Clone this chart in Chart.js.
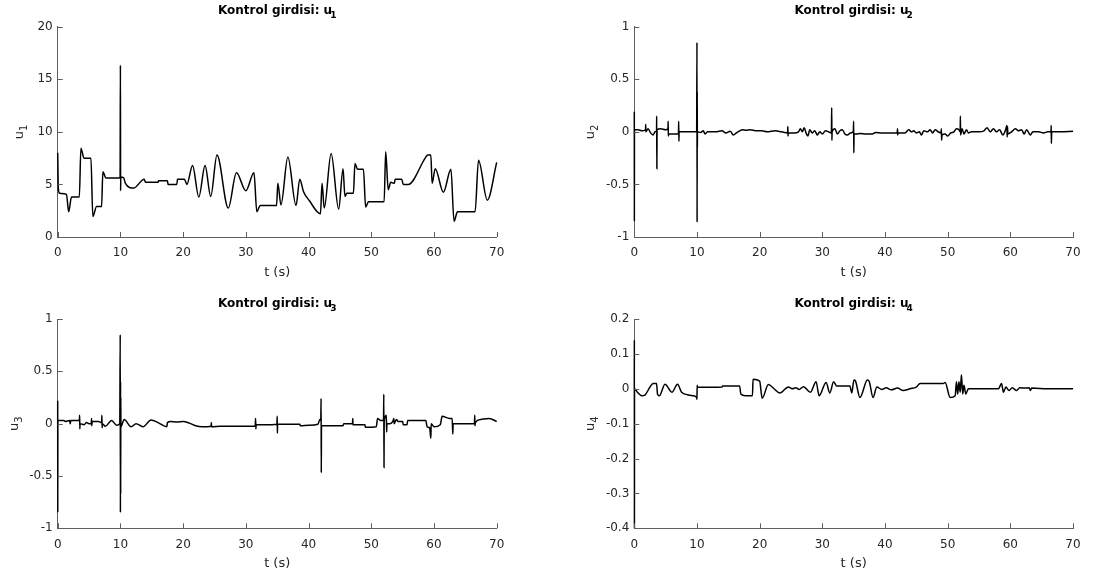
<!DOCTYPE html>
<html>
<head>
<meta charset="utf-8">
<script src="https://cdn.jsdelivr.net/npm/chart.js@4/dist/chart.umd.min.js"></script>
<style>
  body { margin: 0; background: #fff; }
  canvas { position: absolute; }
</style>
</head>
<body>
<canvas id="u1" width="546" height="291" style="left:0;top:0"></canvas>
<canvas id="u2" width="547" height="291" style="left:546px;top:0"></canvas>
<canvas id="u3" width="546" height="292" style="left:0;top:291px"></canvas>
<canvas id="u4" width="547" height="292" style="left:546px;top:291px"></canvas>
<script>
// time axis ticks (s)
const tTicks = [0, 10, 20, 30, 40, 50, 60, 70];

// y ticks per input
const u1Ticks = [0, 5, 10, 15, 20];
const u2Ticks = [-1, -0.5, 0, 0.5, 1];
const u3Ticks = [-1, -0.5, 0, 0.5, 1];
const u4Ticks = [-0.4, -0.3, -0.2, -0.1, 0, 0.1, 0.2];

// control inputs, [t, u] pairs
const u1Pts = [
  [0, 8.0], [0.1, 4.6], [0.3, 4.15], [1.4, 4.05], [1.75, 2.4], [2.2, 3.8], [3.45, 3.8],
  [3.7, 8.45], [4.2, 7.5], [5.3, 7.5], [5.6, 1.95], [6.2, 2.9], [7.0, 2.9], [7.2, 6.2],
  [7.7, 5.6], [9.95, 5.6], [10.0, 16.35], [10.03, 4.4], [10.06, 5.7], [10.5, 5.65],
  [10.8, 5.1], [12.1, 4.65], [13.8, 5.5], [14.0, 5.2], [16.0, 5.2], [16.1, 5.35],
  [17.5, 5.35], [17.6, 5.0], [19.0, 5.0], [19.1, 5.5], [20.2, 5.5], [20.6, 5.0],
  [21.5, 6.8], [22.5, 3.8], [23.5, 6.8], [24.4, 3.85], [25.4, 7.8], [27.2, 2.75],
  [28.5, 6.1], [30.0, 4.4], [31.3, 6.1], [31.75, 2.4], [32.3, 3.0], [34.9, 3.0],
  [35.1, 5.1], [35.6, 3.05], [36.7, 7.6], [38.0, 3.0], [38.6, 5.5], [39.2, 4.3],
  [40.2, 3.4], [41.3, 2.45], [41.9, 2.2], [42.15, 5.1], [42.5, 2.75], [43.6, 7.95],
  [44.8, 2.65], [45.5, 6.5], [45.8, 3.85], [46.1, 4.15], [47.15, 4.15], [47.4, 7.0],
  [47.8, 6.45], [48.75, 6.45], [49.1, 2.85], [49.55, 3.35], [52.05, 3.35], [52.3, 8.1],
  [52.7, 4.5], [53.1, 5.2], [53.7, 5.1], [53.8, 5.5], [54.85, 5.5], [55.1, 5.0],
  [55.9, 5.0], [58.6, 7.5], [59.0, 7.8], [59.5, 7.8], [59.7, 5.1], [60.2, 6.5],
  [61.5, 4.25], [62.7, 6.45], [63.2, 1.5], [63.75, 2.4], [66.55, 2.4], [67.1, 7.3],
  [68.5, 3.5], [70, 7.1]
];

const u2Pts = [
  [0, 0.19], [0.01, -0.85], [0.03, 0.02], [0.6, 0.02], [1.2, 0.01], [1.8, 0.02], [1.82, 0.07],
  [1.85, 0.0], [2.2, 0.03], [2.6, -0.01], [3.0, -0.03], [3.3, 0.0], [3.55, 0.0], [3.57, 0.15],
  [3.6, -0.35], [3.63, 0.02], [4.2, 0.03], [5.0, 0.02], [5.38, 0.03], [5.4, 0.1], [5.43, -0.04],
  [5.5, -0.02], [7.05, -0.02], [7.08, 0.1], [7.12, -0.09], [7.15, 0.0], [8.5, 0.0], [9.95, 0.0],
  [10.0, 0.85], [10.02, -0.86], [10.04, 0.38], [10.06, -0.15], [10.08, 0.0], [10.6, -0.005],
  [11.0, 0.01], [11.3, -0.02], [11.7, 0.0], [13.0, 0.0], [14.0, 0.01], [14.6, -0.01],
  [15.3, 0.005], [15.8, -0.03], [16.3, -0.01], [16.8, 0.01], [17.3, 0.02], [17.8, 0.015],
  [18.5, 0.02], [19.5, 0.01], [20.3, 0.01], [21.2, 0.0], [22.5, 0.01], [23.5, 0.0],
  [24.45, -0.01], [24.5, 0.05], [24.53, -0.04], [24.56, -0.01], [25.5, -0.01], [26.2, 0.0],
  [26.5, 0.03], [26.8, 0.0], [27.1, 0.04], [27.4, -0.01], [27.7, -0.04], [28.0, 0.02],
  [28.4, -0.01], [28.8, 0.01], [29.2, -0.03], [29.6, 0.0], [30.0, -0.02], [30.5, 0.01],
  [31.0, 0.0], [31.45, -0.01], [31.5, 0.23], [31.53, -0.08], [31.56, 0.0], [32.0, 0.03],
  [32.4, -0.02], [32.8, 0.01], [33.2, 0.02], [33.6, -0.02], [34.0, -0.03], [34.5, -0.01],
  [34.95, 0.0], [35.0, 0.1], [35.03, -0.2], [35.06, -0.02], [35.5, -0.02], [36.0, -0.015],
  [37.0, -0.02], [38.0, -0.02], [38.5, -0.005], [39.5, -0.01], [41.0, -0.01], [41.95, -0.01],
  [42.0, 0.03], [42.03, -0.03], [42.06, -0.01], [43.2, -0.01], [43.8, 0.02], [44.2, 0.0],
  [44.6, 0.01], [45.0, -0.01], [45.5, 0.0], [45.8, -0.03], [46.2, 0.01], [46.8, 0.0],
  [47.2, 0.02], [47.6, -0.01], [48.0, 0.02], [48.5, 0.0], [48.95, -0.01], [49.0, 0.03],
  [49.03, -0.08], [49.1, -0.03], [49.6, -0.02], [50.0, -0.04], [50.5, -0.01], [51.0, 0.0],
  [51.4, 0.03], [51.8, 0.02], [52.0, 0.0], [52.03, 0.15], [52.06, -0.03], [52.3, 0.03],
  [52.6, -0.02], [53.0, 0.02], [53.3, -0.01], [53.8, 0.0], [55.0, 0.0], [55.8, 0.01],
  [56.3, 0.04], [56.8, 0.0], [57.3, 0.03], [57.8, 0.0], [58.3, 0.02], [58.8, -0.03],
  [59.3, 0.03], [59.45, 0.06], [59.5, -0.05], [59.55, 0.05], [59.6, -0.02], [60.2, 0.0],
  [60.8, 0.03], [61.3, 0.01], [61.8, 0.02], [62.2, -0.02], [62.6, 0.02], [63.2, -0.03],
  [63.6, 0.0], [64.5, 0.0], [65.3, -0.01], [66.0, 0.0], [66.5, 0.0], [66.52, 0.06],
  [66.55, -0.11], [66.6, 0.0], [68.0, 0.0], [70, 0.005]
];

const u3Pts = [
  [0, 0.22], [0.01, -0.85], [0.03, 0.03], [1.0, 0.03], [1.2, 0.02], [1.9, 0.03], [2.0, 0.0],
  [2.1, 0.03], [3.45, 0.03], [3.5, 0.08], [3.53, -0.05], [3.56, 0.0], [4.2, -0.01], [4.6, 0.01],
  [5.0, 0.0], [5.35, 0.0], [5.4, 0.05], [5.43, -0.02], [5.5, 0.02], [6.5, 0.02], [7.0, 0.01],
  [7.05, 0.08], [7.08, -0.04], [7.12, 0.0], [7.6, -0.025], [8.6, 0.03], [9.4, -0.015],
  [9.9, 0.0], [9.97, 0.85], [10.0, -0.85], [10.02, 0.4], [10.04, -0.67], [10.06, 0.25],
  [10.08, -0.03], [10.6, 0.04], [11.7, -0.03], [12.5, 0.0], [13.6, -0.03], [14.9, 0.035],
  [16.0, 0.01], [17.4, -0.03], [17.5, 0.01], [18.0, 0.02], [19.0, 0.015], [20.0, 0.02],
  [21.0, 0.005], [22.0, -0.02], [23.0, -0.03], [24.45, -0.025], [24.5, 0.01], [24.55, -0.03],
  [26.0, -0.025], [28.0, -0.025], [30.0, -0.025], [31.5, -0.025], [31.55, 0.05], [31.6, -0.05],
  [31.65, -0.01], [33.0, -0.01], [34.95, -0.005], [35.0, 0.07], [35.03, -0.09], [35.06, -0.005],
  [37.0, -0.005], [38.6, -0.005], [38.7, -0.02], [40.0, -0.015], [41.5, -0.005], [41.8, 0.04],
  [41.95, 0.03], [42.0, 0.24], [42.03, -0.47], [42.06, -0.02], [45.5, -0.02], [45.6, 0.0],
  [47.0, 0.0], [47.05, 0.05], [47.08, -0.01], [49.0, -0.01], [49.05, -0.035], [50.8, -0.03],
  [51.0, 0.05], [51.5, 0.03], [51.95, 0.03], [52.0, 0.28], [52.03, -0.42], [52.06, 0.02],
  [52.4, 0.08], [52.45, -0.08], [52.5, 0.0], [53.0, 0.0], [53.5, 0.03], [53.6, 0.05],
  [53.65, 0.0], [54.0, 0.04], [54.3, 0.02], [55.0, 0.02], [55.1, -0.01], [55.7, -0.01],
  [55.8, 0.03], [58.7, 0.03], [58.9, -0.03], [59.3, -0.04], [59.5, -0.14], [59.55, 0.0],
  [60.0, -0.03], [61.0, -0.01], [61.3, 0.07], [62.5, 0.05], [62.9, 0.05], [63.0, -0.1],
  [63.05, 0.0], [63.4, 0.0], [66.45, 0.0], [66.5, 0.08], [66.53, -0.02], [66.6, 0.01],
  [67.5, 0.04], [68.8, 0.05], [70, 0.02]
];

const u4Pts = [
  [0, 0.0], [0.01, 0.14], [0.02, -0.4], [0.03, 0.0], [0.5, -0.01], [1.2, -0.02], [1.7, -0.018],
  [2.5, 0.005], [3.0, 0.015], [3.55, 0.015], [3.7, -0.015], [4.0, -0.02], [4.9, 0.013],
  [6.0, -0.01], [6.9, 0.013], [7.55, -0.01], [8.5, -0.017], [9.4, -0.02], [9.95, -0.025],
  [10.0, -0.03], [10.03, 0.01], [10.06, 0.004], [14.0, 0.005], [14.1, 0.008], [16.8, 0.008],
  [17.0, -0.015], [17.7, -0.02], [18.85, -0.02], [18.95, 0.027], [20.0, 0.022], [20.4, -0.027],
  [21.4, 0.012], [22.3, 0.0], [23.2, -0.012], [24.6, 0.005], [25.2, 0.0], [25.8, 0.003],
  [26.3, -0.002], [27.0, 0.006], [28.1, -0.01], [29.0, 0.02], [29.5, -0.02], [30.6, 0.018],
  [31.2, -0.012], [31.8, 0.02], [32.3, 0.008], [34.4, 0.008], [34.7, -0.012], [35.05, 0.025],
  [35.3, 0.022], [36.0, -0.025], [37.2, 0.025], [37.5, 0.02], [38.1, -0.025], [38.7, 0.005],
  [39.5, -0.002], [40.2, 0.003], [41.0, -0.003], [42.0, 0.002], [42.9, -0.005], [44.0, 0.0],
  [45.0, 0.005], [45.6, 0.015], [49.3, 0.015], [49.6, 0.018], [50.4, -0.025], [51.2, -0.02],
  [51.4, 0.02], [51.6, -0.015], [51.8, 0.02], [52.0, -0.01], [52.2, 0.04], [52.4, -0.015],
  [52.6, 0.01], [52.9, -0.015], [53.3, 0.0], [58.1, 0.0], [58.6, 0.015], [58.9, -0.01],
  [59.3, 0.005], [59.8, -0.005], [60.3, 0.003], [61.0, -0.005], [61.5, 0.003], [62.5, 0.002],
  [63.0, 0.003], [63.2, -0.005], [63.4, 0.002], [66.0, 0.0], [70, 0.0]
];

const FONT = '"DejaVu Sans", sans-serif';
const AXIS = '#5e5e5e';
const TEXT = '#262626';

// inward tick marks, subscripted title and axis labels
const decor = {
  id: 'decor',
  afterDraw(chart, args, o) {
    const { ctx, chartArea: a, scales } = chart;
    ctx.save();
    ctx.strokeStyle = AXIS;
    ctx.lineWidth = 1;
    ctx.beginPath();
    scales.x.ticks.forEach(t => {
      const px = Math.round(scales.x.getPixelForValue(t.value)) + 0.5;
      ctx.moveTo(px, a.bottom);
      ctx.lineTo(px, a.bottom - 5);
    });
    scales.y.ticks.forEach(t => {
      const py = Math.round(scales.y.getPixelForValue(t.value)) + 0.5;
      ctx.moveTo(a.left, py);
      ctx.lineTo(a.left + 5, py);
    });
    ctx.stroke();

    const cx = (a.left + a.right) / 2;
    const n = String(o.n);
    ctx.textAlign = 'left';
    ctx.textBaseline = 'alphabetic';

    // title
    ctx.fillStyle = '#000';
    const main = 'Kontrol girdisi: u';
    ctx.font = 'bold 12px ' + FONT;
    const w1 = ctx.measureText(main).width;
    ctx.font = 'bold 9px ' + FONT;
    const w2 = ctx.measureText(n).width;
    const x0 = cx - (w1 + w2 - 2) / 2;
    const by = a.top - 12.5;
    ctx.font = 'bold 12px ' + FONT;
    ctx.fillText(main, x0, by);
    ctx.font = 'bold 9px ' + FONT;
    ctx.fillText(n, x0 + w1 - 2, by + 4);

    // x label
    ctx.fillStyle = TEXT;
    ctx.font = '13px ' + FONT;
    ctx.textAlign = 'center';
    ctx.fillText('t (s)', cx, a.bottom + 39);

    // y label
    ctx.textAlign = 'left';
    ctx.translate(a.left - o.ylabOff, (a.top + a.bottom) / 2);
    ctx.rotate(-Math.PI / 2);
    ctx.font = '13px ' + FONT;
    const wu = ctx.measureText('u').width;
    ctx.font = '10px ' + FONT;
    const ws = ctx.measureText(n).width;
    const sx = -(wu + ws) / 2;
    ctx.font = '13px ' + FONT;
    ctx.fillText('u', sx, 0);
    ctx.font = '10px ' + FONT;
    ctx.fillText(n, sx + wu, 4);
    ctx.restore();
  }
};

function panel(id, n, pts, yTicks, box) {
  const el = document.getElementById(id);
  const W = el.width, H = el.height;
  return new Chart(el, {
    type: 'line',
    data: {
      datasets: [{
        data: pts.map(p => ({ x: p[0], y: p[1] })),
        borderColor: '#000',
        borderWidth: 1.5,
        pointRadius: 0,
        fill: false,
        cubicInterpolationMode: 'monotone',
        clip: false
      }]
    },
    options: {
      responsive: false,
      animation: false,
      events: [],
      layout: { padding: { top: box.top, right: W - box.right, left: 0, bottom: 0 } },
      plugins: {
        legend: { display: false },
        tooltip: { enabled: false },
        decor: { n: n, ylabOff: box.ylabOff }
      },
      scales: {
        x: {
          type: 'linear',
          min: tTicks[0],
          max: tTicks[tTicks.length - 1],
          afterBuildTicks: s => { s.ticks = tTicks.map(v => ({ value: v })); },
          afterFit: s => { s.height = H - box.bottom; },
          grid: { display: false, drawTicks: false },
          border: { display: true, color: AXIS, width: 1 },
          ticks: { color: TEXT, font: { family: FONT, size: 12 }, padding: 9, maxRotation: 0, autoSkip: false }
        },
        y: {
          type: 'linear',
          min: yTicks[0],
          max: yTicks[yTicks.length - 1],
          afterBuildTicks: s => { s.ticks = yTicks.map(v => ({ value: v })); },
          afterFit: s => { s.width = box.left; },
          grid: { display: false, drawTicks: false },
          border: { display: true, color: AXIS, width: 1 },
          ticks: {
            color: TEXT, font: { family: FONT, size: 12 }, padding: 5, autoSkip: false,
            callback: v => String(Math.round(v * 10) / 10)
          }
        }
      }
    },
    plugins: [decor]
  });
}

// plot boxes in canvas coordinates
panel('u1', 1, u1Pts, u1Ticks, { left: 57.7, right: 496.7, top: 26.7, bottom: 237, ylabOff: 34.5 });
panel('u2', 2, u2Pts, u2Ticks, { left: 88.3, right: 527, top: 26.7, bottom: 237, ylabOff: 40 });
panel('u3', 3, u3Pts, u3Ticks, { left: 57.7, right: 496.7, top: 28, bottom: 237.3, ylabOff: 40 });
panel('u4', 4, u4Pts, u4Ticks, { left: 88.3, right: 527, top: 28, bottom: 237.3, ylabOff: 40 });
</script>
</body>
</html>
